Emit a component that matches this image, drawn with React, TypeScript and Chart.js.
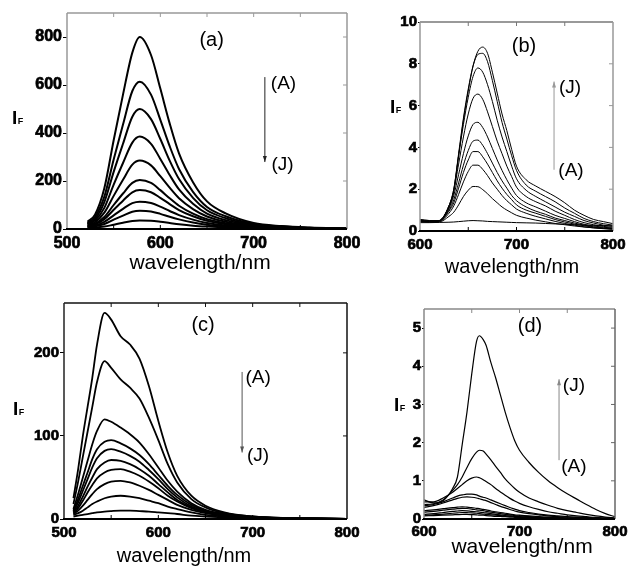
import React, { useEffect, useRef } from 'react';
import { Chart, registerables } from 'chart.js';
Chart.register(...registerables);

const FONT = "'Liberation Sans', Arial, Helvetica, sans-serif";
Chart.defaults.font.family = FONT;
Chart.defaults.font.weight = 'bold' as any;

// ---------- Panel (a) ----------
const wlA = [522, 530, 540, 550, 560, 570, 578, 590, 600, 610, 620, 635, 650, 670, 700, 730, 760, 800];
const a_A = [30, 60, 170, 370, 560, 735, 800, 725, 585, 440, 315, 195, 115, 65, 25, 12, 6, 2];
const a_B = [25, 50, 135, 290, 435, 575, 614, 560, 455, 345, 250, 155, 92, 53, 21, 10, 5, 2];
const a_C = [22, 42, 112, 238, 355, 468, 500, 458, 375, 285, 208, 130, 78, 45, 18, 9, 4, 2];
const a_D = [20, 35, 88, 185, 275, 360, 385, 355, 292, 225, 165, 105, 64, 37, 16, 8, 4, 1];
const a_E = [17, 28, 68, 138, 205, 268, 285, 265, 220, 172, 128, 83, 52, 30, 13, 7, 3, 1];
const a_F = [14, 22, 50, 100, 148, 192, 204, 192, 162, 128, 97, 64, 41, 24, 11, 6, 3, 1];
const a_G = [12, 19, 41, 80, 118, 153, 162, 153, 130, 104, 79, 53, 34, 20, 9, 5, 2, 1];
const a_H = [10, 15, 30, 57, 84, 108, 114, 108, 93, 75, 58, 39, 25, 15, 7, 4, 2, 1];
const a_I = [8, 11, 21, 39, 56, 72, 76, 73, 63, 51, 40, 27, 18, 11, 5, 3, 1, 0];
const a_J = [5, 6, 10, 18, 26, 33, 35, 34, 30, 25, 20, 14, 10, 6, 3, 2, 1, 0];
const xTicksA = [500, 600, 700, 800];
const yTicksA = [0, 200, 400, 600, 800];

// ---------- Panel (b) ----------
const wlB = [600, 610, 620, 630, 635, 640, 645, 650, 655, 660, 665, 670, 675, 680, 685, 690, 695, 700, 710, 720, 730, 740, 750, 760, 770, 780, 790, 800];
const b_A = [0.4, 0.4, 0.41, 0.42, 0.43, 0.45, 0.47, 0.49, 0.5, 0.49, 0.48, 0.46, 0.45, 0.44, 0.43, 0.42, 0.41, 0.4, 0.39, 0.38, 0.36, 0.34, 0.32, 0.3, 0.28, 0.27, 0.26, 0.25];
const b_B = [0.45, 0.42, 0.43, 0.7, 0.9, 1.25, 1.65, 1.95, 2.13, 2.12, 1.98, 1.78, 1.55, 1.35, 1.15, 1.0, 0.87, 0.75, 0.62, 0.52, 0.44, 0.36, 0.3, 0.24, 0.19, 0.15, 0.12, 0.1];
const b_C = [0.45, 0.43, 0.45, 0.85, 1.2, 1.75, 2.35, 2.85, 3.15, 3.15, 2.95, 2.65, 2.3, 2.0, 1.7, 1.45, 1.25, 1.05, 0.85, 0.7, 0.58, 0.46, 0.36, 0.28, 0.2, 0.15, 0.11, 0.08];
const b_D = [0.48, 0.45, 0.47, 0.95, 1.35, 2.05, 2.8, 3.4, 3.8, 3.8, 3.55, 3.2, 2.8, 2.4, 2.05, 1.75, 1.5, 1.25, 1.0, 0.85, 0.7, 0.55, 0.43, 0.33, 0.25, 0.18, 0.13, 0.1];
const b_E = [0.5, 0.45, 0.48, 1.0, 1.5, 2.3, 3.15, 3.85, 4.3, 4.35, 4.1, 3.7, 3.25, 2.8, 2.4, 2.05, 1.7, 1.45, 1.15, 0.95, 0.8, 0.62, 0.5, 0.38, 0.28, 0.2, 0.15, 0.12];
const b_F = [0.5, 0.45, 0.5, 1.1, 1.7, 2.7, 3.7, 4.55, 5.1, 5.2, 4.95, 4.5, 3.95, 3.4, 2.9, 2.45, 2.05, 1.7, 1.35, 1.15, 0.95, 0.75, 0.6, 0.45, 0.32, 0.24, 0.18, 0.14];
const b_G = [0.5, 0.45, 0.5, 1.2, 1.9, 3.2, 4.5, 5.6, 6.35, 6.55, 6.3, 5.7, 5.0, 4.3, 3.7, 3.1, 2.6, 2.1, 1.65, 1.4, 1.2, 0.95, 0.75, 0.55, 0.4, 0.3, 0.22, 0.18];
const b_H = [0.5, 0.48, 0.5, 1.2, 2.0, 3.6, 5.1, 6.4, 7.4, 7.8, 7.6, 7.0, 6.2, 5.3, 4.5, 3.8, 3.1, 2.5, 1.95, 1.65, 1.4, 1.15, 0.9, 0.7, 0.5, 0.38, 0.28, 0.22];
const b_I = [0.55, 0.5, 0.5, 1.2, 2.0, 3.7, 5.4, 6.8, 7.9, 8.45, 8.5, 8.1, 7.2, 6.2, 5.2, 4.4, 3.6, 2.9, 2.2, 1.9, 1.65, 1.4, 1.1, 0.85, 0.6, 0.45, 0.35, 0.28];
const b_J = [0.55, 0.5, 0.5, 1.1, 1.9, 3.6, 5.3, 6.7, 7.9, 8.6, 8.8, 8.5, 7.6, 6.6, 5.6, 4.8, 3.9, 3.1, 2.45, 2.15, 1.9, 1.65, 1.35, 1.0, 0.75, 0.55, 0.45, 0.35];
const xTicksB = [600, 700, 800];
const yTicksB = [0, 2, 4, 6, 8, 10];

// ---------- Panel (c) ----------
const wlC = [510, 515, 520, 525, 530, 535, 543, 550, 560, 570, 580, 590, 600, 610, 620, 635, 650, 670, 700, 740, 800];
const c_A = [25, 60, 100, 135, 170, 210, 248, 240, 220, 210, 193, 160, 118, 80, 52, 28, 16, 8, 3, 1, 0];
const c_B = [18, 45, 75, 105, 135, 165, 190, 182, 168, 158, 145, 122, 95, 66, 44, 24, 14, 7, 3, 1, 0];
const c_C = [12, 30, 50, 70, 90, 106, 120, 117, 110, 102, 92, 78, 62, 46, 33, 19, 11, 6, 2, 1, 0];
const c_D = [10, 24, 40, 56, 72, 84, 93, 95, 91, 85, 77, 66, 53, 40, 29, 17, 10, 5, 2, 1, 0];
const c_E = [9, 20, 34, 48, 62, 73, 82, 84, 81, 76, 69, 59, 48, 36, 26, 15, 9, 5, 2, 1, 0];
const c_F = [8, 16, 27, 39, 50, 60, 68, 71, 70, 66, 60, 52, 42, 32, 23, 14, 8, 4, 2, 1, 0];
const c_G = [7, 13, 22, 32, 41, 49, 56, 59, 60, 57, 52, 45, 37, 28, 21, 13, 8, 4, 2, 1, 0];
const c_H = [6, 10, 16, 23, 30, 36, 42, 45, 46, 44, 40, 35, 29, 23, 17, 11, 7, 4, 2, 1, 0];
const c_I = [5, 7, 10, 14, 18, 21, 25, 27, 28, 27, 25, 22, 19, 15, 12, 8, 5, 3, 1, 0, 0];
const c_J = [3, 4, 5, 6, 7, 8, 9, 9.5, 10, 10, 9.5, 9, 8, 7, 6, 4, 3, 2, 1, 0, 0];
const xTicksC = [500, 600, 700, 800];
const yTicksC = [0, 100, 200];

// ---------- Panel (d) ----------
const wlD = [600, 610, 620, 630, 635, 640, 645, 650, 655, 658, 662, 665, 670, 675, 680, 685, 690, 695, 700, 710, 720, 730, 740, 750, 760, 770, 780, 790, 800];
const d_A = [0.08, 0.09, 0.1, 0.11, 0.115, 0.12, 0.12, 0.115, 0.11, 0.1, 0.1, 0.09, 0.08, 0.07, 0.065, 0.06, 0.05, 0.045, 0.04, 0.03, 0.02, 0.02, 0.01, 0.01, 0.01, 0, 0, 0, 0];
const d_B = [0.1, 0.11, 0.13, 0.15, 0.16, 0.17, 0.165, 0.16, 0.15, 0.14, 0.13, 0.12, 0.11, 0.1, 0.09, 0.08, 0.07, 0.06, 0.05, 0.04, 0.03, 0.02, 0.02, 0.01, 0.01, 0.01, 0, 0, 0];
const d_C = [0.12, 0.14, 0.17, 0.2, 0.21, 0.22, 0.215, 0.2, 0.19, 0.18, 0.17, 0.16, 0.14, 0.12, 0.11, 0.09, 0.08, 0.07, 0.06, 0.05, 0.04, 0.03, 0.02, 0.02, 0.01, 0.01, 0.01, 0, 0];
const d_D = [0.18, 0.2, 0.23, 0.26, 0.27, 0.28, 0.275, 0.26, 0.24, 0.23, 0.22, 0.2, 0.18, 0.16, 0.14, 0.12, 0.11, 0.09, 0.08, 0.06, 0.05, 0.04, 0.03, 0.02, 0.02, 0.01, 0.01, 0.01, 0];
const d_E = [0.22, 0.24, 0.27, 0.3, 0.31, 0.32, 0.31, 0.3, 0.28, 0.27, 0.25, 0.24, 0.21, 0.19, 0.17, 0.15, 0.13, 0.11, 0.1, 0.08, 0.06, 0.05, 0.04, 0.03, 0.02, 0.02, 0.01, 0.01, 0.01];
const d_F = [0.3, 0.35, 0.42, 0.5, 0.54, 0.57, 0.58, 0.57, 0.55, 0.53, 0.5, 0.48, 0.43, 0.38, 0.33, 0.29, 0.25, 0.21, 0.18, 0.14, 0.11, 0.08, 0.06, 0.05, 0.04, 0.03, 0.02, 0.02, 0.01];
const d_G = [0.35, 0.38, 0.45, 0.55, 0.6, 0.63, 0.65, 0.65, 0.63, 0.6, 0.57, 0.55, 0.5, 0.45, 0.4, 0.35, 0.3, 0.26, 0.22, 0.17, 0.13, 0.1, 0.08, 0.06, 0.05, 0.04, 0.03, 0.02, 0.02];
const d_H = [0.45, 0.45, 0.55, 0.7, 0.8, 0.9, 1.0, 1.07, 1.1, 1.08, 1.03, 0.98, 0.9, 0.8, 0.71, 0.62, 0.54, 0.47, 0.41, 0.32, 0.25, 0.19, 0.15, 0.11, 0.08, 0.06, 0.04, 0.03, 0.02];
const d_I = [0.38, 0.4, 0.5, 0.75, 0.9, 1.1, 1.35, 1.58, 1.75, 1.8, 1.78, 1.7, 1.55, 1.38, 1.22, 1.05, 0.92, 0.8, 0.7, 0.55, 0.45, 0.36, 0.28, 0.22, 0.17, 0.12, 0.08, 0.05, 0.03];
const d_J = [0.5, 0.42, 0.48, 0.8, 1.1, 1.95, 2.8, 3.8, 4.65, 4.8, 4.7, 4.55, 4.1, 3.7, 3.25, 2.8, 2.4, 2.05, 1.8, 1.48, 1.22, 1.0, 0.82, 0.66, 0.52, 0.38, 0.25, 0.14, 0.06];
const xTicksD = [600, 700, 800];
const yTicksD = [0, 1, 2, 3, 4, 5];

type Panel = {
  key: string;
  box: [number, number, number, number];
  pad: { left: number; right: number; top: number; bottom: number };
  yWidth: number;
  xHeight: number;
  xMin: number; xMax: number; xTicks: number[];
  yMin: number; yMax: number; yTicks: number[];
  wl: number[];
  series: number[][];
  lineWidth: number;
  tickSize: number;
  yTickLen: number;
  xPad: number;
  frame: { left: string; top: string; right: string; bottom: string };
  letter: string; letterAt: [number, number];
  arrowX: number; arrowFrom: number; arrowTo: number; arrowColor: string;
  labA: [number, number]; labJ: [number, number];
  ifAt: [number, number];
  titleAt: [number, number]; titleSize: number;
};

const panels: Panel[] = [
  {
    key: 'a', box: [0, 0, 370, 280], pad: { left: 0, right: 23, top: 13, bottom: 21 }, yWidth: 67, xHeight: 30,
    xMin: 500, xMax: 800, xTicks: xTicksA, yMin: 0, yMax: 900, yTicks: yTicksA,
    wl: wlA, series: [a_A, a_B, a_C, a_D, a_E, a_F, a_G, a_H, a_I, a_J],
    lineWidth: 2, tickSize: 16, yTickLen: 4, xPad: 5,
    frame: { left: '#999', top: '#999', right: '#999', bottom: '#000' },
    letter: '(a)', letterAt: [655, 787],
    arrowX: 712, arrowFrom: 633, arrowTo: 279, arrowColor: '#222',
    labA: [732, 604], labJ: [731, 267],
    ifAt: [12, 124], titleAt: [200, 269], titleSize: 21,
  },
  {
    key: 'b', box: [370, 0, 266, 280], pad: { left: 0, right: 23, top: 22, bottom: 19 }, yWidth: 50, xHeight: 30,
    xMin: 600, xMax: 800, xTicks: xTicksB, yMin: 0, yMax: 10, yTicks: yTicksB,
    wl: wlB, series: [b_A, b_B, b_C, b_D, b_E, b_F, b_G, b_H, b_I, b_J],
    lineWidth: 1, tickSize: 15, yTickLen: 2, xPad: 5,
    frame: { left: '#999', top: '#777', right: '#999', bottom: '#000' },
    letter: '(b)', letterAt: [707.8, 8.82],
    arrowX: 738.9, arrowFrom: 2.93, arrowTo: 7.15, arrowColor: '#999',
    labA: [756.5, 2.88], labJ: [755.4, 6.86],
    ifAt: [390, 113], titleAt: [512, 273], titleSize: 20,
  },
  {
    key: 'c', box: [0, 280, 370, 290], pad: { left: 0, right: 23, top: 23, bottom: 21 }, yWidth: 64, xHeight: 30,
    xMin: 500, xMax: 800, xTicks: xTicksC, yMin: 0, yMax: 260, yTicks: yTicksC,
    wl: wlC, series: [c_A, c_B, c_C, c_D, c_E, c_F, c_G, c_H, c_I, c_J],
    lineWidth: 1.8, tickSize: 15, yTickLen: 4, xPad: 5,
    frame: { left: '#222', top: '#111', right: '#111', bottom: '#000' },
    letter: '(c)', letterAt: [647.4, 232.7],
    arrowX: 688.8, arrowFrom: 177, arrowTo: 80, arrowColor: '#555',
    labA: [705.7, 169.7], labJ: [705.7, 76.4],
    ifAt: [13, 415], titleAt: [184, 562], titleSize: 20,
  },
  {
    key: 'd', box: [370, 280, 266, 290], pad: { left: 0, right: 21, top: 29, bottom: 21 }, yWidth: 54, xHeight: 30,
    xMin: 600, xMax: 800, xTicks: xTicksD, yMin: 0, yMax: 5.5, yTicks: yTicksD,
    wl: wlD, series: [d_A, d_B, d_C, d_D, d_E, d_F, d_G, d_H, d_I, d_J],
    lineWidth: 1.2, tickSize: 15, yTickLen: 2, xPad: 4,
    frame: { left: '#888', top: '#888', right: '#666', bottom: '#000' },
    letter: '(d)', letterAt: [711, 5.03],
    arrowX: 741.4, arrowFrom: 1.54, arrowTo: 3.66, arrowColor: '#888',
    labA: [757, 1.36], labJ: [757, 3.48],
    ifAt: [394, 411], titleAt: [522, 553], titleSize: 21,
  },
];

function PanelChart({ p }: { p: Panel }) {
  const ref = useRef<HTMLCanvasElement | null>(null);
  useEffect(() => {
    const canvas = ref.current;
    if (!canvas) return;
    const [bx, by] = p.box;
    const overlay = {
      id: 'overlay_' + p.key,
      afterDraw(chart: any) {
        const ctx = chart.ctx as CanvasRenderingContext2D;
        const ca = chart.chartArea;
        const xs = chart.scales.x;
        const ys = chart.scales.y;
        const seg = (x1: number, y1: number, x2: number, y2: number, c: string, w: number) => {
          ctx.strokeStyle = c; ctx.lineWidth = w;
          ctx.beginPath(); ctx.moveTo(x1, y1); ctx.lineTo(x2, y2); ctx.stroke();
        };
        ctx.save();
        seg(ca.left, ca.top, ca.right, ca.top, p.frame.top, 1.5);
        seg(ca.right, ca.top, ca.right, ca.bottom, p.frame.right, 1.5);
        seg(ca.left, ca.top, ca.left, ca.bottom, p.frame.left, 1.5);
        seg(ca.left - 1, ca.bottom, ca.right, ca.bottom, p.frame.bottom, 1.8);
        for (let v = p.xMin + 50; v < p.xMax; v += 50) {
          const px = xs.getPixelForValue(v);
          seg(px, ca.bottom, px, ca.bottom - 4, '#000', 1);
          seg(px, ca.top, px, ca.top + 4, p.frame.top, 1);
        }
        p.yTicks.forEach((v) => {
          if (v === p.yMin) return;
          const py = ys.getPixelForValue(v);
          seg(ca.right, py, ca.right - 4, py, p.frame.right, 1);
        });
        const ax = xs.getPixelForValue(p.arrowX);
        const y1 = ys.getPixelForValue(p.arrowFrom);
        const y2 = ys.getPixelForValue(p.arrowTo);
        seg(ax, y1, ax, y2, p.arrowColor, 1);
        const dir = Math.sign(y2 - y1);
        ctx.fillStyle = p.arrowColor;
        ctx.beginPath();
        ctx.moveTo(ax, y2);
        ctx.lineTo(ax - 2, y2 - dir * 6);
        ctx.lineTo(ax + 2, y2 - dir * 6);
        ctx.closePath();
        ctx.fill();
        ctx.fillStyle = '#000';
        ctx.textAlign = 'center';
        ctx.textBaseline = 'middle';
        ctx.font = `normal 20px ${FONT}`;
        ctx.fillText(p.letter, xs.getPixelForValue(p.letterAt[0]), ys.getPixelForValue(p.letterAt[1]));
        ctx.font = `normal 19px ${FONT}`;
        ctx.fillText('(A)', xs.getPixelForValue(p.labA[0]), ys.getPixelForValue(p.labA[1]));
        ctx.fillText('(J)', xs.getPixelForValue(p.labJ[0]), ys.getPixelForValue(p.labJ[1]));
        ctx.textAlign = 'left';
        ctx.textBaseline = 'alphabetic';
        ctx.font = `bold 19px ${FONT}`;
        const ix = p.ifAt[0] - bx;
        const iy = p.ifAt[1] - by;
        ctx.fillText('I', ix, iy);
        const iw = ctx.measureText('I').width;
        ctx.font = `bold 9px ${FONT}`;
        ctx.fillText('F', ix + iw + 0.5, iy - 0.5);
        ctx.textAlign = 'center';
        ctx.font = `normal ${p.titleSize}px ${FONT}`;
        ctx.fillText('wavelength/nm', p.titleAt[0] - bx, p.titleAt[1] - by);
        ctx.restore();
      },
    };
    const tickFont = { family: FONT, size: p.tickSize, weight: 'bold' };
    const chart = new Chart(canvas, {
      type: 'line',
      data: {
        datasets: p.series.map((s, k) => ({
          label: 'ABCDEFGHIJ'[k],
          data: p.wl.map((x, i) => ({ x, y: s[i] })),
          borderColor: '#000',
          borderWidth: p.lineWidth,
          pointRadius: 0,
          fill: false,
          cubicInterpolationMode: 'monotone' as const,
        })),
      },
      options: {
        responsive: false,
        animation: false,
        events: [],
        layout: { padding: p.pad },
        plugins: { legend: { display: false }, tooltip: { enabled: false } },
        scales: {
          x: {
            type: 'linear', min: p.xMin, max: p.xMax,
            afterBuildTicks: (s: any) => { s.ticks = p.xTicks.map((v) => ({ value: v })); },
            afterFit: (s: any) => { s.height = p.xHeight; },
            grid: { display: false, drawTicks: false },
            border: { display: false },
            ticks: { color: '#000', padding: p.xPad, maxRotation: 0, autoSkip: false, font: tickFont, textStrokeColor: '#000', textStrokeWidth: 0.7 },
          },
          y: {
            type: 'linear', min: p.yMin, max: p.yMax,
            afterBuildTicks: (s: any) => { s.ticks = p.yTicks.map((v) => ({ value: v })); },
            afterFit: (s: any) => { s.width = p.yWidth; },
            grid: { display: true, drawOnChartArea: false, drawTicks: true, tickLength: p.yTickLen, color: '#000', lineWidth: 1 },
            border: { display: false },
            ticks: { color: '#000', padding: 1, autoSkip: false, font: tickFont, textStrokeColor: '#000', textStrokeWidth: 0.7 },
          },
        },
      } as any,
      plugins: [overlay],
    });
    return () => chart.destroy();
  }, [p]);
  const [bx, by, bw, bh] = p.box;
  return (
    <canvas
      ref={ref}
      width={bw}
      height={bh}
      style={{ position: 'absolute', left: bx, top: by, width: bw, height: bh, display: 'block' }}
    />
  );
}

export default function App() {
  return (
    <div style={{ position: 'fixed', left: 0, top: 0, width: 636, height: 570, background: '#fff', overflow: 'hidden' }}>
      {panels.map((p) => (
        <PanelChart key={p.key} p={p} />
      ))}
    </div>
  );
}
